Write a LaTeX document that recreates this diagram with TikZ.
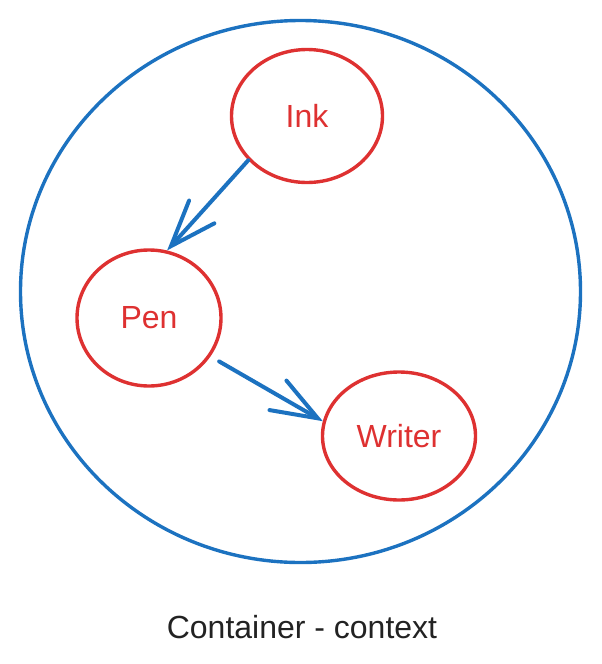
\documentclass[tikz,border=0pt]{standalone}
\usepackage{fontspec}
\setmainfont{Liberation Sans}
\usetikzlibrary{shapes.geometric,arrows.meta}

\definecolor{ctxblue}{RGB}{28,114,192}
\definecolor{objred}{RGB}{222,49,49}
\definecolor{txtgray}{RGB}{34,34,34}

\begin{document}
\begin{tikzpicture}[x=1pt,y=-1pt,
    obj/.style={ellipse, draw=objred, line width=3.4pt, inner sep=0pt,
                text=objred, font=\fontsize{32}{38}\selectfont},
    ctx/.style={ellipse, draw=ctxblue, line width=3.4pt, inner sep=0pt},
    uses/.style={draw=ctxblue, line width=4pt, line cap=round,
                 -{Straight Barb[length=46pt,width=34pt,line cap=round]}}]
  \useasboundingbox (0,0) rectangle (602,664);

  \node[ctx, minimum width=560pt, minimum height=542pt] (container) at (300.5,291.5) {};

  \node[obj, minimum width=151pt, minimum height=133pt] (ink)    at (307,116) {Ink};
  \node[obj, minimum width=144pt, minimum height=136pt] (pen)    at (149,318) {Pen};
  \node[obj, minimum width=153pt, minimum height=128pt] (writer) at (399,436) {Writer};

  \draw[uses] (ink.217) -- (pen.75);
  \draw[uses, shorten <=10pt] (pen.328) -- (writer.169);

  \node[anchor=base, text=txtgray, font=\fontsize{32}{38}\selectfont] (label) at (302,638) {Container - context};
\end{tikzpicture}
\end{document}
